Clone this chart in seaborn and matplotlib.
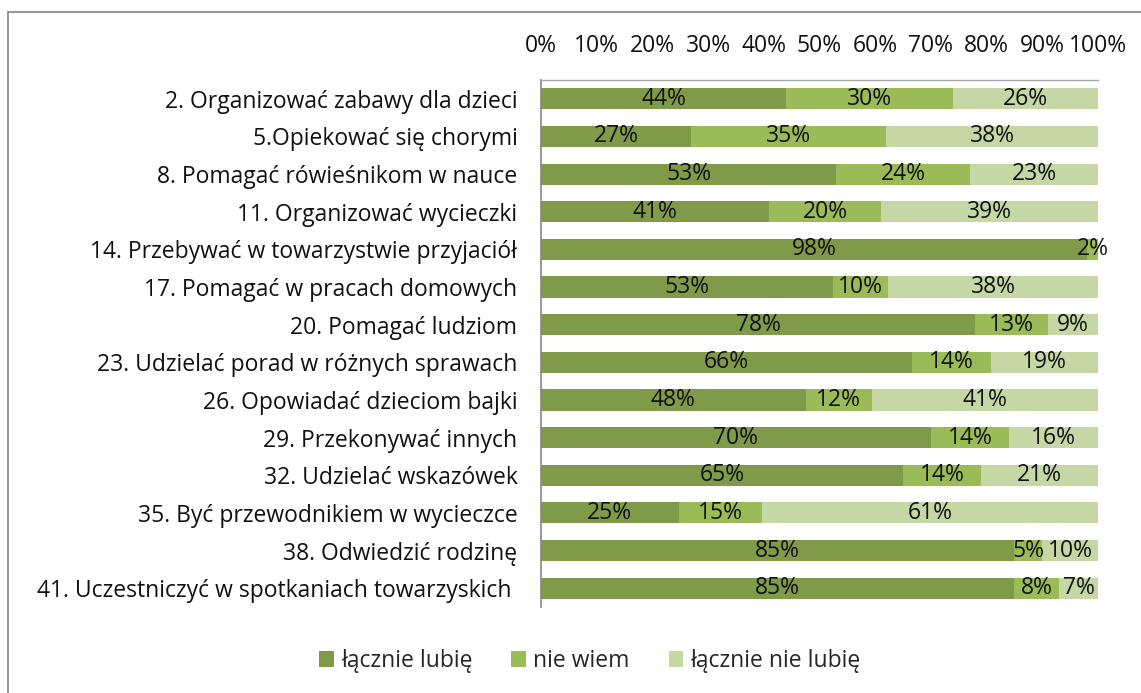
import matplotlib
matplotlib.use("Agg")
import matplotlib.pyplot as plt
import seaborn as sns
import pandas as pd
import numpy as np
from matplotlib.patches import Rectangle, Patch

categories = [
    "2. Organizować zabawy dla dzieci",
    "5.Opiekować się chorymi",
    "8. Pomagać rówieśnikom w nauce",
    "11. Organizować wycieczki",
    "14. Przebywać w towarzystwie przyjaciół",
    "17. Pomagać w pracach domowych",
    "20. Pomagać ludziom",
    "23. Udzielać porad w różnych sprawach",
    "26. Opowiadać dzieciom bajki",
    "29. Przekonywać innych",
    "32. Udzielać wskazówek",
    "35. Być przewodnikiem w wycieczce",
    "38. Odwiedzić rodzinę",
    "41. Uczestniczyć w spotkaniach towarzyskich ",
]
lubie = [44, 27, 53, 41, 98, 53, 78, 66, 48, 70, 65, 25, 85, 85]
nie_wiem = [30, 35, 24, 20, 2, 10, 13, 14, 12, 14, 14, 15, 5, 8]
nie_lubie = [26, 38, 23, 39, 0, 38, 9, 19, 41, 16, 21, 61, 10, 7]
series_names = ["łącznie lubię", "nie wiem", "łącznie nie lubię"]
tick_labels = ["0%", "10%", "20%", "30%", "40%", "50%", "60%", "70%", "80%", "90%", "100%"]
colors = ["#7F9A48", "#9BBB59", "#C4D7A4"]

sns.set_style("white")
plt.rcParams["font.family"] = ["Open Sans", "DejaVu Sans"]
FS = 16.5

df = pd.DataFrame({"cat": categories, "a": lubie, "b": nie_wiem, "c": nie_lubie})
tot = df[["a", "b", "c"]].sum(axis=1)
pa = df["a"] / tot * 100
pb = df["b"] / tot * 100
pc = df["c"] / tot * 100
df["c1"] = pa
df["c2"] = pa + pb
df["c3"] = pa + pb + pc

fig = plt.figure(figsize=(11.41, 6.93), dpi=100)
ax = fig.add_axes([541 / 1141, 1 - 607 / 693, (1098 - 541) / 1141, (607 - 80) / 693])

for col, color in zip(["c3", "c2", "c1"], colors[::-1]):
    sns.barplot(data=df, x=col, y="cat", orient="h", color=color, width=0.56,
                saturation=1, ax=ax, linewidth=0)

ax.set_xlim(0, 100)
ax.set_xlabel("")
ax.set_ylabel("")
ax.xaxis.tick_top()
ax.set_xticks(np.arange(0, 101, 10))
ax.set_xticklabels(tick_labels)
ax.tick_params(axis="x", length=0, pad=16, labelsize=FS, colors="#111111")
ax.tick_params(axis="y", length=0, pad=17, labelsize=FS, colors="#111111")
for s in ["right", "bottom"]:
    ax.spines[s].set_visible(False)
ax.spines["left"].set_color("#868686")
ax.spines["top"].set_color("#A6A6A6")
ax.spines["left"].set_linewidth(1.2)
ax.spines["top"].set_linewidth(1.0)

vals = [df["a"], df["b"], df["c"]]
starts = [np.zeros(len(df)), df["c1"].values, df["c2"].values]
widths = [pa.values, pb.values, pc.values]
for v, st, w in zip(vals, starts, widths):
    for i in range(len(df)):
        if v.iloc[i] > 0:
            ax.text(st[i] + w[i] / 2, i, f"{v.iloc[i]}%", ha="center", va="center",
                    fontsize=FS, color="#111111")

handles = [Patch(facecolor=c, edgecolor="none") for c in colors]
fig.legend(handles, series_names, loc="center", bbox_to_anchor=(0.517, 1 - 661 / 693),
           ncol=3, frameon=False, fontsize=FS, handlelength=0.65, handleheight=0.65,
           handletextpad=0.3, columnspacing=1.7)

fig.patches.append(Rectangle((8 / 1141, -0.1), 1.2, 1 - 12 / 693 + 0.1, transform=fig.transFigure,
                             fill=False, edgecolor="#8C8C8C", linewidth=1.3))

fig.savefig("out.png", dpi=100, facecolor="white")
